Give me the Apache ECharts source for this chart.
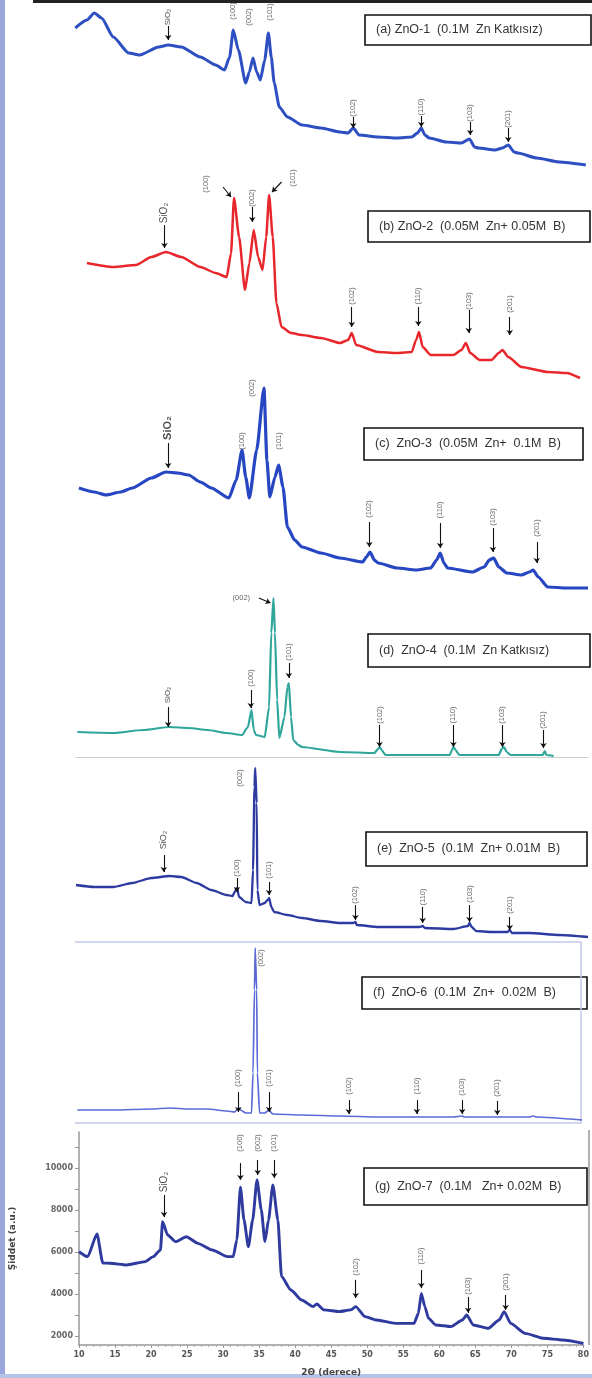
<!DOCTYPE html>
<html>
<head>
<meta charset="utf-8">
<script src="https://cdn.jsdelivr.net/npm/echarts@6/dist/echarts.min.js"></script>
<style>
html,body{margin:0;padding:0;background:#fff;}
#chart{width:592px;height:1378px;}
</style>
</head>
<body>
<div id="chart"></div>
<script>
// 2θ (derece), şiddet (a.u.)
var zno1 = [[9.9,152],[11.5,160],[12.5,167],[13.5,162],[15.1,143],[17.2,127],[18.7,125],[21.3,133],[22.6,135],[24.4,133],[27.0,123],[29.1,115],[30.3,110],[31.0,123],[31.5,150],[32.2,130],[33.2,97],[33.7,108],[34.2,122],[34.7,108],[35.2,100],[35.8,120],[36.3,147],[36.7,123],[37.1,97],[37.8,73],[38.9,63],[40.9,55],[43.5,52],[46.1,48],[47.2,47],[47.9,52],[48.7,45],[51.3,43],[53.9,42],[55.9,43],[56.7,47],[57.2,52],[57.7,45],[58.3,42],[60.6,38],[62.7,37],[63.8,41],[64.5,33],[65.0,32],[67.3,30],[68.3,32],[69.1,35],[69.9,28],[70.4,27],[73.0,22],[76.1,18],[79.7,15]];
var zno2 = [[11.5,127],[15.1,123],[18.2,125],[20.3,133],[22.3,138],[24.4,133],[27.0,123],[29.1,117],[30.6,113],[31.2,137],[31.6,192],[32.3,153],[33.1,100],[33.7,127],[34.3,160],[34.9,133],[35.5,120],[36.0,153],[36.4,195],[36.9,153],[37.4,87],[38.1,63],[39.4,57],[40.9,55],[43.5,52],[46.1,47],[47.2,50],[47.7,57],[48.3,45],[51.3,38],[53.9,37],[55.9,38],[56.5,50],[56.9,58],[57.4,43],[58.5,35],[61.6,35],[62.7,40],[63.3,47],[63.9,37],[65.2,30],[66.8,30],[67.8,37],[68.3,40],[69.1,33],[70.9,23],[74.5,18],[77.1,17],[78.9,12]];
var zno3 = [[10.4,112],[12.5,108],[14.1,105],[16.1,108],[17.7,112],[20.3,122],[22.3,128],[23.9,127],[25.4,125],[27.0,118],[28.5,112],[30.9,102],[31.9,120],[32.7,150],[33.2,123],[33.7,102],[34.7,150],[35.7,212],[36.1,140],[36.5,103],[37.2,123],[37.7,135],[38.3,113],[38.9,73],[39.9,60],[40.9,53],[43.5,47],[46.1,42],[49.2,38],[49.7,43],[50.2,48],[50.8,40],[51.3,37],[53.9,32],[56.5,30],[58.5,32],[59.3,40],[59.8,47],[60.3,37],[60.8,32],[64.2,28],[65.8,33],[66.5,40],[67.1,42],[67.8,33],[68.9,27],[70.9,25],[72.0,28],[72.5,30],[73.2,23],[74.5,13],[77.1,12],[80.0,12]];
var zno4 = [[10.2,25],[15.1,24],[19.2,27],[22.8,30],[25.4,29],[28.0,27],[30.6,24],[32.7,22],[33.5,30],[34.0,47],[34.3,27],[34.6,22],[35.8,20],[36.4,50],[36.7,124],[37.0,159],[37.2,124],[37.5,57],[37.8,19],[38.5,40],[38.9,70],[39.1,74],[39.4,40],[39.7,17],[40.4,12],[40.9,10],[46.1,5],[50.8,4],[51.3,8],[51.5,10],[51.8,7],[52.3,2],[61.1,2],[61.4,7],[61.6,10],[61.9,7],[62.4,2],[67.8,2],[68.2,8],[68.5,10],[68.9,5],[69.4,2],[73.8,2],[74.1,6],[74.3,2],[75.3,1]];
var zno5 = [[10.0,55],[12.5,53],[15.1,53],[17.7,57],[20.3,62],[22.8,64],[24.4,63],[26.5,57],[28.5,50],[30.6,45],[31.4,44],[31.7,48],[32.0,52],[32.3,43],[33.2,38],[34.0,37],[34.2,70],[34.4,153],[34.5,172],[34.7,137],[34.8,50],[35.1,35],[35.8,37],[36.2,40],[36.4,42],[36.7,33],[37.1,28],[38.9,25],[40.9,22],[43.5,19],[46.1,17],[47.9,17],[48.2,18],[48.4,15],[51.3,13],[57.0,13],[57.4,14],[57.7,12],[61.6,11],[63.6,14],[63.8,17],[64.1,13],[64.7,9],[66.8,8],[69.0,8],[69.3,10],[69.6,7],[72.0,7],[76.1,5],[80.0,3]];
var zno6 = [[10.2,15],[15.1,15],[20.3,16],[22.8,17],[25.4,16],[28.0,16],[30.6,14],[31.7,13],[32.1,16],[32.3,17],[32.5,15],[33.2,12],[34.0,12],[34.2,52],[34.4,135],[34.5,177],[34.7,135],[34.8,52],[35.1,12],[35.8,12],[36.2,14],[36.4,16],[36.6,13],[36.9,11],[40.9,10],[46.1,9],[51.3,8],[61.6,8],[62.8,9],[63.1,8],[72.0,8],[72.5,9],[73.0,8],[79.2,5]];
var zno7 = [[10.0,6010],[11.2,5775],[12.5,6855],[13.3,5475],[14.3,5460],[16.6,5380],[19.2,5540],[20.3,5775],[21.3,6095],[21.6,7440],[22.3,6810],[23.4,6490],[24.9,6725],[26.5,6410],[28.5,6095],[30.6,5775],[31.4,5775],[31.9,6570],[32.4,9080],[32.9,7520],[33.5,6250],[34.1,7520],[34.7,9430],[35.3,8000],[35.8,6490],[36.3,7520],[36.9,9190],[37.6,7520],[38.1,4830],[39.4,4190],[40.9,3710],[42.5,3395],[43.0,3525],[44.0,3240],[46.1,3160],[47.7,3240],[48.4,3395],[49.7,2920],[51.3,2760],[53.9,2600],[56.5,2600],[57.1,3080],[57.5,4030],[58.0,3395],[58.5,2840],[59.5,2525],[61.6,2445],[63.2,2760],[63.8,3000],[64.7,2525],[66.8,2365],[68.3,2760],[69.0,3160],[69.9,2600],[71.9,2125],[74.5,1890],[77.1,1810],[80.0,1650]];

// peak labels: [text, 2θ, label y, arrow tail y, arrow tip y, tail 2θ, tip 2θ, rotate]
var annA = [['SiO₂',22.6,163,154,140],['(100)',31.5,169],['(002)',33.6,163],['(101)',36.5,168],['(102)',47.9,72,63,52],['(110)',57.2,73,64,53],['(103)',63.9,67,58,45],['(201)',69.1,61,52,38]];
var annB = [['SiO₂',22.1,177,165,142],['(100)',27.8,206,203,193,30.1,31.2],['(002)',34.1,192,183,168],['(101)',39.6,212,208,198,38.1,36.8],['(102)',47.7,94,83,63],['(110)',56.8,94,83,64],['(103)',63.7,89,80,57],['(201)',69.3,86,73,55]];
var annC = [['SiO₂',22.6,172,157,132],['(100)',32.7,159],['(002)',34.1,212],['(101)',37.7,159],['(102)',50.1,91,78,53],['(110)',59.8,90,77,52],['(103)',67.0,83,72,48],['(201)',73.0,72,58,37]];
var annD = [['SiO₂',22.6,62,50,30],['(100)',33.9,79,67,49],['(002)',32.6,159,159,154,35.0,36.6,0],['(101)',39.1,105,94,79],['(102)',51.5,42,32,10],['(110)',61.6,42,32,10],['(103)',68.3,42,32,10],['(201)',73.9,37,27,9]];
var annE = [['SiO₂',22.0,100,85,68],['(100)',32.0,72,62,48],['(002)',32.4,162],['(101)',36.4,70,58,45],['(102)',48.2,45,35,20],['(110)',57.4,43,33,17],['(103)',63.8,46,35,18],['(201)',69.3,35,23,10]];
var annF = [['(002)',35.3,167],['(100)',32.2,47,33,13],['(101)',36.4,47,33,13],['(102)',47.3,39,25,11],['(110)',56.6,39,25,11],['(103)',62.8,38,25,11],['(201)',67.6,37,24,10]];
var annG = [['SiO₂',21.8,9330,8710,7660],['(100)',32.4,11190,10230,9430],['(002)',34.8,11190,10380,9660],['(101)',37.1,11190,10380,9520],['(102)',48.4,5280,4670,3810],['(110)',57.5,5810,5140,4280],['(103)',64.0,4380,3860,3100],['(201)',69.2,4570,3950,3240]];

var xTicks = [10, 80, 5];
var yLabelsG = [2000, 4000, 6000, 8000, 10000];
var yTicksG = [2000, 3000, 4000, 5000, 6000, 7000, 8000, 9000, 10000, 11000];

var titles = [
  '(a) ZnO-1  (0.1M  Zn Katkısız)',
  '(b) ZnO-2  (0.05M  Zn+ 0.05M  B)',
  '(c)  ZnO-3  (0.05M  Zn+  0.1M  B)',
  '(d)  ZnO-4  (0.1M  Zn Katkısız)',
  '(e)  ZnO-5  (0.1M  Zn+ 0.01M  B)',
  '(f)  ZnO-6  (0.1M  Zn+  0.02M  B)',
  '(g)  ZnO-7  (0.1M   Zn+ 0.02M  B)'
];

// layout of the seven stacked panels
var panels = [
  {data: zno1, ann: annA, top: 0,    h: 180, color: '#2e4fc1', w: 3.0, si: 8,  box: [365, 15, 226, 30]},
  {data: zno2, ann: annB, top: 165,  h: 225, color: '#e8262b', w: 2.5, si: 10, box: [368, 211, 222, 31]},
  {data: zno3, ann: annC, top: 380,  h: 220, color: '#2746c2', w: 3.2, si: 11, box: [364, 428, 219, 32]},
  {data: zno4, ann: annD, top: 590,  h: 167, color: '#2fa69b', w: 2.2, si: 8,  box: [368, 634, 222, 33]},
  {data: zno5, ann: annE, top: 760,  h: 180, color: '#2d3aa0', w: 2.3, si: 9,  box: [366, 832, 221, 34]},
  {data: zno6, ann: annF, top: 940,  h: 185, color: '#5b6ad6', w: 1.7, si: 9,  box: [362, 977, 225, 32]},
  {data: zno7, ann: annG, top: 1132, h: 213, color: '#2e3a9e', w: 2.9, si: 10, box: [364, 1168, 223, 37]}
];

var grids = [], xAxes = [], yAxes = [], series = [], graphics = [];
var last = panels.length - 1;

panels.forEach(function (p, i) {
  grids.push({left: 76, right: 4, top: p.top, height: p.h});
  var isLast = i === last;
  xAxes.push({
    type: 'value', gridIndex: i, min: xTicks[0], max: xTicks[1], interval: xTicks[2],
    show: isLast || i === 3,
    name: isLast ? '2Θ (derece)' : '', nameLocation: 'middle', nameGap: 23,
    nameTextStyle: {fontSize: 9, fontWeight: 'bold', color: '#444', fontFamily: 'DejaVu Sans'},
    axisLine: {lineStyle: {color: isLast ? '#999' : '#cfcfcf', width: isLast ? 1.5 : 1}},
    axisTick: {show: isLast, length: 3, lineStyle: {color: '#999'}},
    minorTick: {show: isLast, splitNumber: 5, length: 2, lineStyle: {color: '#aaa'}},
    axisLabel: {show: isLast, fontSize: 8, fontWeight: 'bold', color: '#555', margin: 6, fontFamily: 'DejaVu Sans'},
    splitLine: {show: false}
  });
  if (isLast) {
    yAxes.push({
      type: 'value', gridIndex: i, min: 1570, max: 11710,
      name: 'Şiddet (a.u.)', nameLocation: 'middle', nameGap: 62,
      nameTextStyle: {fontSize: 9, fontWeight: 'bold', color: '#444', fontFamily: 'DejaVu Sans'},
      axisLine: {show: true, lineStyle: {color: '#999', width: 1.5}},
      axisTick: {show: true, length: 4, customValues: yTicksG, lineStyle: {color: '#999'}},
      axisLabel: {fontSize: 8, fontWeight: 'bold', color: '#666', margin: 6, customValues: yLabelsG,
        fontFamily: 'DejaVu Sans', formatter: function (v) { return String(v); }},
      splitLine: {show: false}
    });
  } else {
    yAxes.push({type: 'value', gridIndex: i, min: 0, max: p.h, show: false, splitLine: {show: false}});
  }

  // XRD pattern
  series.push({
    type: 'line', xAxisIndex: i, yAxisIndex: i, data: p.data,
    showSymbol: false, smooth: 0.2, smoothMonotone: 'x',
    lineStyle: {color: p.color, width: p.w}, silent: true
  });

  // peak labels and arrows
  series.push({
    type: 'scatter', xAxisIndex: i, yAxisIndex: i, symbolSize: 0, silent: true,
    data: p.ann.map(function (a) {
      var si = a[0].indexOf('SiO') === 0;
      return {
        value: [a[1], a[2]],
        label: {
          formatter: a[0],
          rotate: a[7] === 0 ? 0 : 90,
          fontSize: si ? p.si : 7.5,
          fontWeight: si && i === 2 ? 'bold' : 'normal',
          color: si ? '#222' : '#3c3c3c'
        }
      };
    }),
    label: {show: true, position: 'inside', align: 'center', verticalAlign: 'middle', fontFamily: 'Liberation Sans'},
    markLine: {
      silent: true, animation: false,
      symbol: ['none', 'arrow'], symbolSize: 5,
      lineStyle: {color: '#111', width: 1.1, type: 'solid'},
      label: {show: false},
      data: p.ann.filter(function (a) { return a[3] != null; }).map(function (a) {
        return [
          {coord: [a[5] != null ? a[5] : a[1], a[3]]},
          {coord: [a[6] != null ? a[6] : a[1], a[4]]}
        ];
      })
    }
  });

  // sample caption box
  graphics.push({
    type: 'group', x: p.box[0], y: p.box[1],
    children: [
      {type: 'rect', shape: {x: 0, y: 0, width: p.box[2], height: p.box[3]},
        style: {fill: '#fff', stroke: '#111', lineWidth: 1.6}},
      {type: 'text', x: 11, y: p.box[3] / 2,
        style: {text: titles[i], fill: '#333', fontSize: 12.5, fontFamily: 'Liberation Sans', verticalAlign: 'middle'}}
    ]
  });
});

// page frame bits
graphics.push({type: 'rect', shape: {x: 33, y: 0, width: 559, height: 3}, style: {fill: '#222'}});
graphics.push({type: 'rect', shape: {x: 0, y: 0, width: 5, height: 1378}, style: {fill: '#9aa6db'}});
graphics.push({type: 'rect', shape: {x: 0, y: 1374, width: 592, height: 4}, style: {fill: '#b4c3e8'}});
graphics.push({type: 'polyline', shape: {points: [[75, 942], [581, 942], [581, 1123], [75, 1123]]},
  style: {stroke: '#c3c9ec', lineWidth: 1.5, fill: null}});
graphics.push({type: 'line', shape: {x1: 589, y1: 1130, x2: 589, y2: 1345}, style: {stroke: '#999', lineWidth: 1.5}});

var chart = echarts.init(document.getElementById('chart'));
chart.setOption({
  animation: false,
  backgroundColor: '#fff',
  grid: grids,
  xAxis: xAxes,
  yAxis: yAxes,
  series: series,
  graphic: graphics
});
</script>
</body>
</html>
